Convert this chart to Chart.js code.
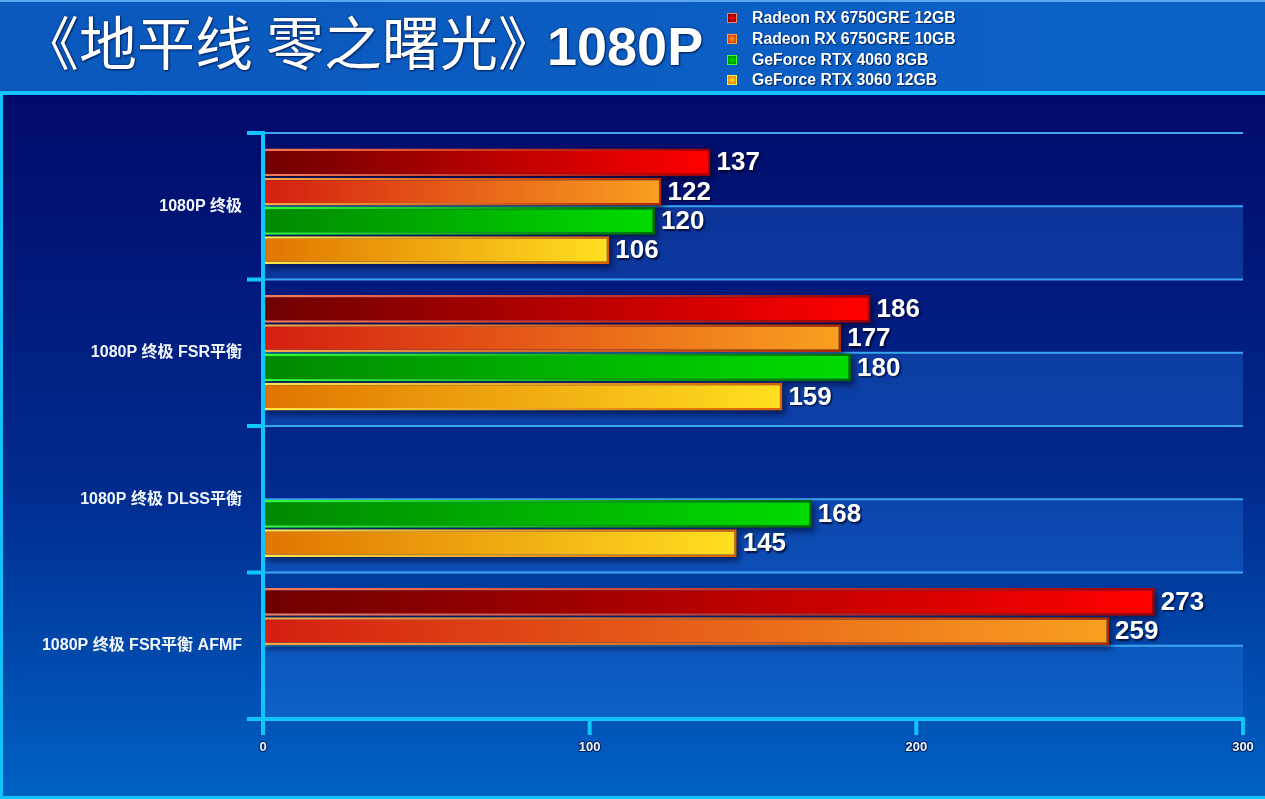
<!DOCTYPE html>
<html>
<head>
<meta charset="utf-8">
<script src="https://cdn.jsdelivr.net/npm/chart.js@4.4.1/dist/chart.umd.min.js"></script>
<style>
  html,body{margin:0;padding:0;background:#0a5cc0;}
  #wrap{position:relative;width:1265px;height:799px;overflow:hidden;}
  #wrap canvas{position:absolute;left:0;top:0;}
  #title{position:absolute;left:21px;top:-2px;color:#fff;white-space:nowrap;
    text-shadow:0 0 2px #00205a,1px 1px 2px #00205a;}
  #title .cjk{font-family:"Noto Sans CJK SC",sans-serif;font-size:58px;font-weight:400;}
  #title .num{font-family:"Liberation Sans",Arial,sans-serif;font-size:54px;font-weight:bold;margin-left:-9px;}
  #legend{position:absolute;left:727px;top:8px;}
  .li{height:20.7px;display:flex;align-items:center;color:#fff;
    font-family:"Liberation Sans",Arial,sans-serif;font-weight:bold;font-size:15.8px;
    text-shadow:1px 1px 1px #00205a;}
  .sw{width:8px;height:8px;border:1.5px solid;margin-right:15px;flex:none;}
</style>
</head>
<body>
<div id="wrap">
  <canvas id="c"></canvas>
  <div id="title"><span class="cjk">《地平线 零之曙光》</span><span class="num">1080P</span></div>
  <div id="legend"></div>
</div>
<script>
// ---- data ----
const categories = ['1080P 终极', '1080P 终极 FSR平衡', '1080P 终极 DLSS平衡', '1080P 终极 FSR平衡 AFMF'];
const seriesNames = ['Radeon RX 6750GRE 12GB', 'Radeon RX 6750GRE 10GB', 'GeForce RTX 4060 8GB', 'GeForce RTX 3060 12GB'];
const rx6750gre12 = [137, 186, null, 273];
const rx6750gre10 = [122, 177, null, 259];
const rtx4060_8 = [120, 180, 168, null];
const rtx3060_12 = [106, 159, 145, null];
const xTicks = [0, 100, 200, 300];

// ---- styles ----
const fills = [['#6e0000', '#ff0000'], ['#d41e10', '#f9a020'], ['#008800', '#00dc00'], ['#e07400', '#ffe020']];
const borders = [['#f87a5a', '#a00000'], ['#f8a848', '#b02800'], ['#30ff30', '#006a00'], ['#ffe848', '#d86000']];
const seriesData = [rx6750gre12, rx6750gre10, rtx4060_8, rtx3060_12];

function hGrad(ctx, cols) {
  const chart = ctx.chart;
  if (!chart.chartArea || ctx.raw == null) return cols[1];
  const xs = chart.scales.x;
  const x0 = xs.getPixelForValue(0), x1 = xs.getPixelForValue(ctx.raw);
  const g = chart.ctx.createLinearGradient(x0, 0, Math.max(x1, x0 + 1), 0);
  g.addColorStop(0, cols[0]); g.addColorStop(1, cols[1]);
  return g;
}

const datasets = seriesNames.map((name, i) => ({
  label: name,
  data: seriesData[i],
  backgroundColor: c => hGrad(c, fills[i]),
  borderColor: c => hGrad(c, borders[i]),
  borderWidth: 2.5,
  borderSkipped: false,
  categoryPercentage: 0.8,
  barPercentage: 0.95
}));

// legend (HTML text)
const lg = document.getElementById('legend');
seriesNames.forEach((n, i) => {
  const d = document.createElement('div'); d.className = 'li';
  const s = document.createElement('span'); s.className = 'sw';
  s.style.background = 'radial-gradient(circle,' + fills[i][1] + ',' + fills[i][0] + ')';
  s.style.borderColor = borders[i][0];
  d.appendChild(s); d.appendChild(document.createTextNode(n)); lg.appendChild(d);
});

function drawAxes(chart) {
  const ctx = chart.ctx, ca = chart.chartArea, y = chart.scales.y, x = chart.scales.x;
  const n = chart.data.labels.length, catH = (ca.bottom - ca.top) / n;
  ctx.save();
  ctx.strokeStyle = '#10c4fc'; ctx.lineWidth = 4; ctx.lineCap = 'butt';
  ctx.beginPath(); ctx.moveTo(ca.left, ca.top - 2); ctx.lineTo(ca.left, ca.bottom); ctx.stroke();
  for (let i = 0; i <= n; i++) {
    const py = i === n ? ca.bottom : y.getPixelForValue(i) - catH / 2;
    ctx.beginPath(); ctx.moveTo(ca.left - 16, py); ctx.lineTo(ca.left, py); ctx.stroke();
  }
  ctx.beginPath(); ctx.moveTo(ca.left - 16, ca.bottom); ctx.lineTo(ca.right + 2, ca.bottom); ctx.stroke();
  xTicks.forEach(v => {
    const px = x.getPixelForValue(v);
    ctx.beginPath(); ctx.moveTo(px, ca.bottom); ctx.lineTo(px, ca.bottom + 16); ctx.stroke();
  });
  ctx.restore();
}

const deco = {
  id: 'deco',
  beforeDraw(chart) {
    const ctx = chart.ctx, W = chart.width, H = chart.height;
    ctx.save();
    let g = ctx.createLinearGradient(0, 0, W, 0);
    g.addColorStop(0, '#0a58bc'); g.addColorStop(1, '#0c62c8');
    ctx.fillStyle = g; ctx.fillRect(0, 0, W, 93);
    ctx.fillStyle = '#5aa8f0'; ctx.fillRect(0, 0, W, 2);
    g = ctx.createLinearGradient(0, 95, 0, H);
    g.addColorStop(0, '#000a6a'); g.addColorStop(0.55, '#012a8e'); g.addColorStop(1, '#0062c4');
    ctx.fillStyle = g; ctx.fillRect(0, 93, W, H - 93);
    ctx.fillStyle = '#12c2fa';
    ctx.fillRect(0, 91, W, 4);
    ctx.fillRect(0, 91, 3, H - 91);
    ctx.fillRect(0, H - 3, W, 3);
    ctx.restore();
  },
  beforeDatasetsDraw(chart) {
    const ctx = chart.ctx, ca = chart.chartArea, y = chart.scales.y;
    const n = chart.data.labels.length, catH = (ca.bottom - ca.top) / n;
    ctx.save();
    ctx.fillStyle = 'rgba(40,130,240,0.30)';
    for (let i = 0; i < n; i++) {
      const c = y.getPixelForValue(i);
      ctx.fillRect(ca.left, c, ca.right - ca.left, catH / 2);
    }
    ctx.strokeStyle = '#3aa6f2'; ctx.lineWidth = 2;
    for (let i = 0; i < n; i++) {
      const c = y.getPixelForValue(i);
      [c - catH / 2, c].forEach(p => {
        ctx.beginPath(); ctx.moveTo(ca.left, p); ctx.lineTo(ca.right, p); ctx.stroke();
      });
    }
    ctx.fillStyle = 'rgba(0,0,35,0.55)';
    ctx.filter = 'blur(3px)';
    chart.data.datasets.forEach((ds, di) => {
      chart.getDatasetMeta(di).data.forEach((el, j) => {
        if (ds.data[j] == null) return;
        const h = el.height;
        ctx.fillRect(Math.min(el.base, el.x) + 3, el.y - h / 2 + 4, Math.abs(el.x - el.base), h);
      });
    });
    ctx.restore();
  },
  afterDatasetsDraw(chart) {
    drawAxes(chart);
    const ctx = chart.ctx;
    ctx.save();
    ctx.font = 'bold 26px "Liberation Sans", Arial, sans-serif';
    ctx.textBaseline = 'middle'; ctx.textAlign = 'left';
    ctx.shadowColor = 'rgba(0,0,30,0.8)'; ctx.shadowOffsetX = 1.5; ctx.shadowOffsetY = 1.5; ctx.shadowBlur = 2;
    ctx.fillStyle = '#ffffff';
    chart.data.datasets.forEach((ds, di) => {
      chart.getDatasetMeta(di).data.forEach((el, j) => {
        const v = ds.data[j];
        if (v == null) return;
        ctx.fillText(String(v), el.x + 6, el.y + 1);
      });
    });
    ctx.restore();
  }
};

new Chart(document.getElementById('c'), {
  type: 'bar',
  data: { labels: categories, datasets },
  options: {
    indexAxis: 'y',
    responsive: true,
    maintainAspectRatio: false,
    animation: false,
    layout: { padding: { left: 0, right: 22, top: 133, bottom: 0 } },
    plugins: { legend: { display: false }, tooltip: { enabled: false }, title: { display: false } },
    scales: {
      x: {
        min: 0, max: 300,
        afterBuildTicks: s => { s.ticks = xTicks.map(v => ({ value: v })); },
        afterFit: s => { s.height = 80; s.paddingLeft = 0; s.paddingRight = 0; },
        grid: { display: false, drawTicks: false },
        border: { display: false },
        ticks: {
          color: '#eef4ff', padding: 21,
          font: { family: '"Liberation Sans Narrow", "Arial Narrow", "Liberation Sans", sans-serif', size: 13, weight: 'bold' },
          textStrokeColor: 'rgba(0,20,80,0.8)', textStrokeWidth: 2
        }
      },
      y: {
        afterFit: s => { s.width = 263; s.paddingTop = 0; s.paddingBottom = 0; },
        grid: { display: false, drawTicks: false },
        border: { display: false },
        ticks: {
          color: '#f2f6ff', padding: 21,
          font: { family: '"Liberation Sans", "Noto Sans CJK SC", sans-serif', size: 16, weight: 'bold' }
        }
      }
    }
  },
  plugins: [deco]
});
</script>
</body>
</html>
